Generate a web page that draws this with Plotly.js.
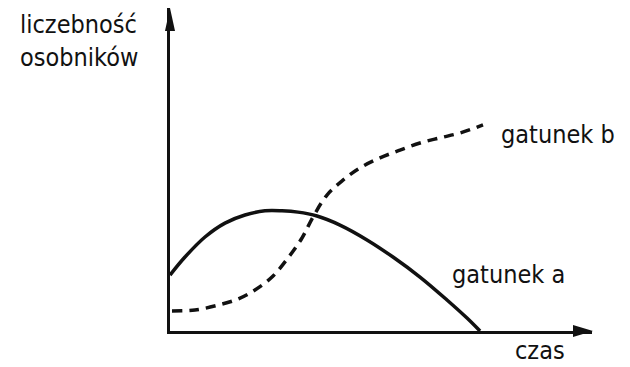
<!DOCTYPE html>
<html>
<head>
<meta charset="utf-8">
<script src="https://cdn.plot.ly/plotly-3.0.1.min.js"></script>
<style>html,body{margin:0;padding:0;background:#fff;}#chart{width:630px;height:367px;}</style>
</head>
<body>
<div id="chart"></div>
<script>
// gatunek a (solid)
var timeA = [0, 3.55, 8.29, 13.03, 17.77, 22.51, 26.54, 30.33, 34.83, 40.28, 46.68, 52.84, 59.24, 65.64, 70.38, 73.46];
var countA = [17.3, 22.9, 29.1, 33.4, 35.9, 37.2, 37.2, 36.8, 35.6, 32.8, 28.2, 22.9, 16.7, 9.6, 4.0, 0];
// gatunek b (dashed)
var timeB = [0.47, 5.92, 11.37, 16.11, 20.14, 24.17, 27.96, 31.28, 33.89, 37.2, 40.99, 45.02, 49.76, 54.5, 59.24, 63.98, 68.72, 74.17];
var countB = [6.2, 6.5, 8.0, 9.9, 12.7, 16.7, 22.6, 28.8, 35.3, 42.1, 46.7, 50.5, 53.6, 56.0, 58.2, 59.8, 61.3, 63.8];
var labelA = "gatunek a";
var labelB = "gatunek b";
var yTitle = "liczebność<br>osobników";
var xTitle = "czas";

var W = 630, H = 367;
var L = 170, R = 38, T = 8, B = 36;
var pw = W - L - R, ph = H - T - B;
function px(x){ return (x - L) / pw; }
function py(y){ return (H - B - y) / ph; }

var FONT = "DejaVu Sans Condensed, DejaVu Sans, sans-serif";
var INK = "#111";
var FS = 25;

var traces = [
  {x: timeA, y: countA, mode: "lines", line: {color: INK, width: 3.5, shape: "spline", smoothing: 1}, hoverinfo: "skip"},
  {x: timeB, y: countB, mode: "lines", line: {color: INK, width: 3.5, shape: "spline", smoothing: 1, dash: "10px,7px"}, hoverinfo: "skip"}
];

var layout = {
  width: W, height: H,
  margin: {l: L, r: R, t: T, b: B, pad: 0},
  paper_bgcolor: "#fff", plot_bgcolor: "#fff",
  showlegend: false,
  xaxis: {range: [0, 100], showgrid: false, zeroline: false, showticklabels: false, ticks: "", showline: true, linecolor: INK, linewidth: 3},
  yaxis: {range: [0, 100], showgrid: false, zeroline: false, showticklabels: false, ticks: "", showline: true, linecolor: INK, linewidth: 3},
  shapes: [
    {type: "path", xref: "paper", yref: "paper", fillcolor: INK, line: {width: 0},
     path: "M" + px(165) + "," + py(31) + " L" + px(170) + "," + py(8) + " L" + px(175) + "," + py(31) + " Z"},
    {type: "path", xref: "paper", yref: "paper", fillcolor: INK, line: {width: 0},
     path: "M" + px(573) + "," + py(325) + " L" + px(593) + "," + py(331) + " L" + px(573) + "," + py(337) + " Z"}
  ],
  annotations: [
    {text: yTitle, xref: "paper", yref: "paper", x: px(18), y: py(41), xanchor: "left", yanchor: "middle", align: "left", showarrow: false, font: {family: FONT, size: FS, color: INK}},
    {text: labelB, xref: "paper", yref: "paper", x: px(499), y: py(134), xanchor: "left", yanchor: "middle", showarrow: false, font: {family: FONT, size: FS, color: INK}},
    {text: labelA, xref: "paper", yref: "paper", x: px(450), y: py(274), xanchor: "left", yanchor: "middle", showarrow: false, font: {family: FONT, size: FS, color: INK}},
    {text: xTitle, xref: "paper", yref: "paper", x: px(513), y: py(350), xanchor: "left", yanchor: "middle", showarrow: false, font: {family: FONT, size: FS, color: INK}}
  ]
};

Plotly.newPlot("chart", traces, layout, {staticPlot: true, displayModeBar: false});
</script>
</body>
</html>
